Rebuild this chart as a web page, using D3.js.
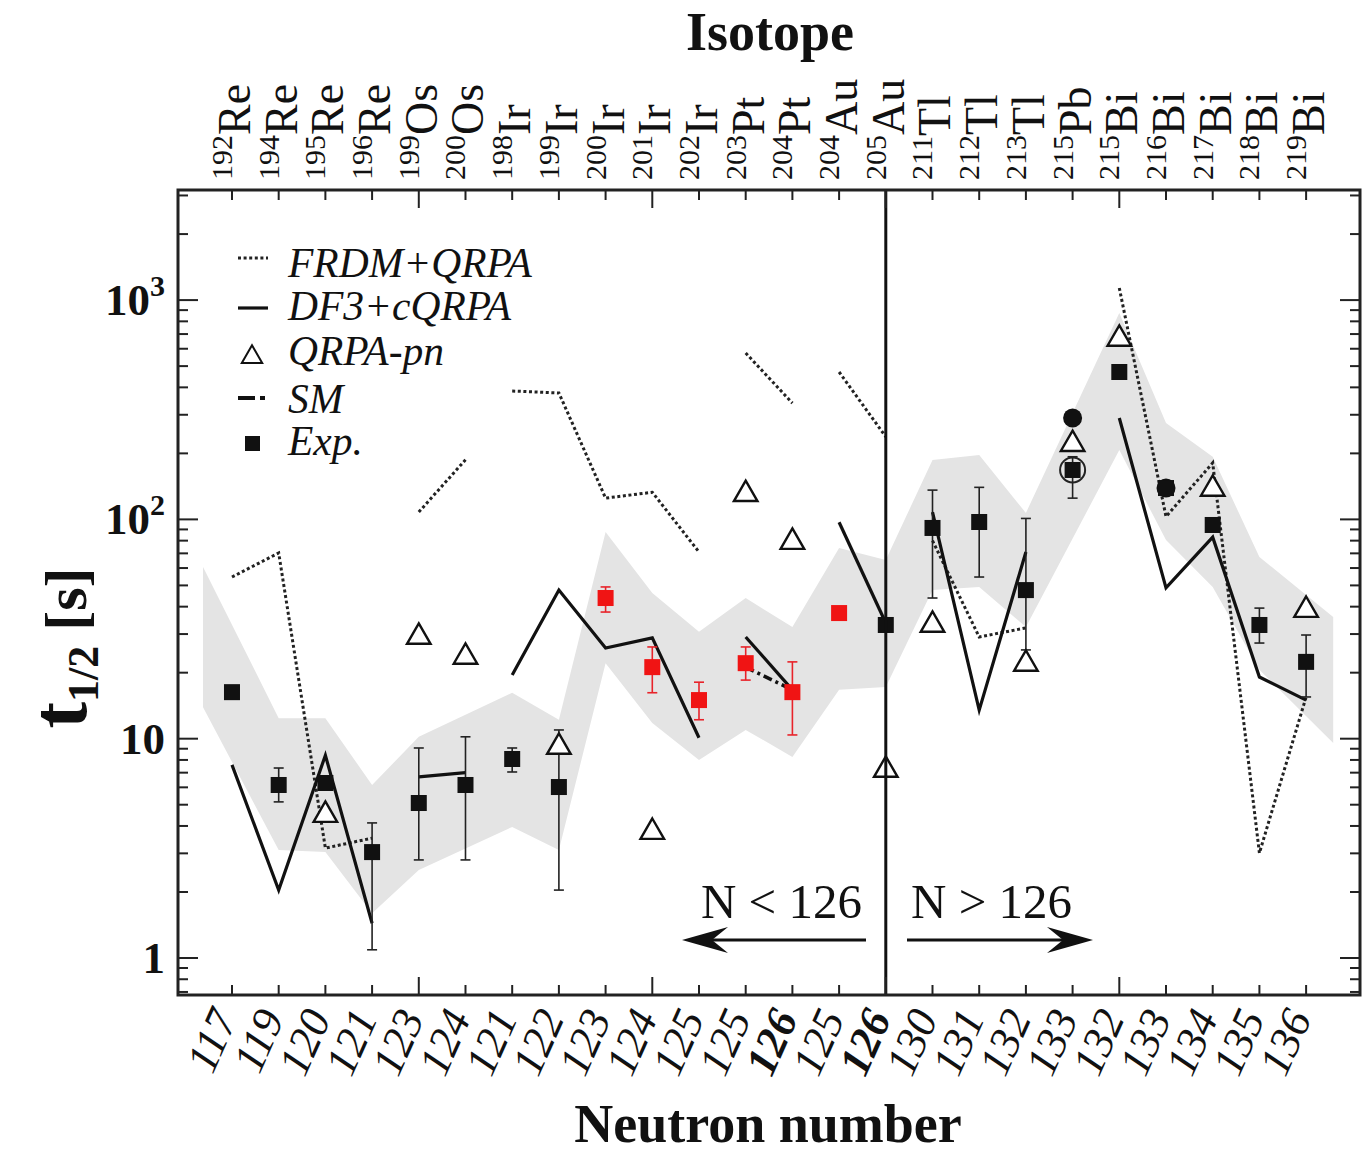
<!DOCTYPE html>
<html><head><meta charset="utf-8">
<script src="https://cdn.jsdelivr.net/npm/d3@7"></script>
<style>body{margin:0;background:#fff}</style>
</head><body>
<svg id="c" width="1367" height="1158"></svg>
<script>
// ---------- data ----------
const massNumbers = [192,194,195,196,199,200,198,199,200,201,202,203,204,204,205,211,212,213,215,215,216,217,218,219];
const elements = ["Re","Re","Re","Re","Os","Os","Ir","Ir","Ir","Ir","Ir","Pt","Pt","Au","Au","Tl","Tl","Tl","Pb","Bi","Bi","Bi","Bi","Bi"];
const neutronNumbers = [117,119,120,121,123,124,121,122,123,124,125,125,126,125,126,130,131,132,133,132,133,134,135,136];
const boldNeutron = [12,14];

const frdm = [54.6,70.3,3.17,3.52,108,187,385,377,125,133,71,574,339,470,238,80,29.1,32,null,1136,103,181,3.01,15.5];
const df3 = [7.6,2.04,8.4,1.44,6.7,7.0,19.5,47.6,25.9,28.8,10.1,29.1,16.7,97,33.7,108,13.5,71,null,290,48.7,83,19.1,15];
const smCalc = [null,null,null,null,null,null,null,null,null,null,null,21.2,16.7,null,null,null,null,null,null,null,null,null,null,null];
const qrpaPn = [null,null,4.58,null,29.7,24.1,null,9.36,null,3.83,null,133,80.5,null,7.35,33.7,null,22.4,225,679,null,140.6,null,39.4];

const expValue = [16.3,6.15,6.28,3.04,5.09,6.15,8.08,6.02,43.8,21.2,15.0,22.1,16.3,37.4,33.0,91.4,97.3,47.6,168,470,139,94.3,33.0,22.4];
const expHigh  = [null,7.35,null,4.13,9.07,10.2,9.07,10.96,49.2,26.2,18.1,26.2,22.4,null,null,136,140,101,193,null,null,null,39.4,29.7];
const expLow   = [null,5.15,null,1.09,2.8,2.8,7.05,2.04,37.8,16.2,12.2,18.5,10.4,null,null,43.8,54.6,25.4,125,null,null,null,27.3,15.5];
const expRedIdx = [8,9,10,11,12,13];
const extraFilledCircle = [{i:18, v:290},{i:20, v:139}];
const openCircleIdx = [18];

const bandPos  = [-0.62,1,2,3,4,6,7,8,9,10,11,12,13,14,15,16,17,19,20,21,22,23.58];
const bandHigh = [60.7,12.4,12.4,6.15,10.2,16.2,12.2,87.6,46.2,30.7,43.8,32.3,74.1,65.3,186.6,196.7,107,873,275,193,67.4,35.9];
const bandLow  = [13.9,3.11,3.04,1.60,2.52,3.96,3.11,22.1,11.8,8.0,10.96,8.26,16.7,17.2,47.6,49.2,32.3,207,80.5,49.2,20.6,9.56];

const yTickValues = [1,10,100,1000];
const yTickBase = ["1","10","10","10"];
const yTickExp = ["","","2","3"];
const xMajorTicks = [4,9,14,19];

const legendLabels = ["FRDM+QRPA","DF3+cQRPA","QRPA-pn","SM","Exp."];

// ---------- layout ----------
const L=178, R=1360, T=190, B=995;
const svg = d3.select("#c");
const serif = "'Liberation Serif','Times New Roman',serif";
const x = d3.scaleLinear().domain([-1.156, 24.154]).range([L,R]);
const y = d3.scaleLog().domain([0.678, 3177]).range([B,T]);

const plot = svg.append("g");
plot.append("clipPath").attr("id","clip").append("rect").attr("x",L).attr("y",T).attr("width",R-L).attr("height",B-T);
const g = plot.append("g").attr("clip-path","url(#clip)");

// band
const bandData = bandPos.map((p,k)=>({p, hi:bandHigh[k], lo:bandLow[k]}));
g.append("path").datum(bandData)
  .attr("d", d3.area().x(d=>x(d.p)).y0(d=>y(d.lo)).y1(d=>y(d.hi)))
  .attr("fill","#e4e4e4");

function segments(vals){
  const segs=[]; let cur=[];
  vals.forEach((v,i)=>{
    if(v==null){ if(cur.length>1) segs.push(cur); cur=[]; return; }
    if(cur.length && elements[cur[cur.length-1].i]!==elements[i]){ if(cur.length>1) segs.push(cur); cur=[]; }
    cur.push({i,v});
  });
  if(cur.length>1) segs.push(cur);
  return segs;
}
const line = d3.line().x(d=>x(d.i)).y(d=>y(d.v));

// FRDM dotted
g.selectAll("path.frdm").data(segments(frdm)).enter().append("path")
  .attr("d",line).attr("fill","none").attr("stroke","#222").attr("stroke-width",3)
  .attr("stroke-dasharray","3,2.6");
// DF3 solid
g.selectAll("path.df3").data(segments(df3)).enter().append("path")
  .attr("d",line).attr("fill","none").attr("stroke","#111").attr("stroke-width",3.2).attr("stroke-linejoin","miter");
// SM dash-dot
g.selectAll("path.sm").data(segments(smCalc)).enter().append("path")
  .attr("d",line).attr("fill","none").attr("stroke","#111").attr("stroke-width",3.5)
  .attr("stroke-dasharray","9,4,3,4");

// vertical separator at N=126
svg.append("line").attr("x1",x(14)).attr("x2",x(14)).attr("y1",T).attr("y2",B)
  .attr("stroke","#111").attr("stroke-width",3);

// error bars
const expData = expValue.map((v,i)=>({i,v,hi:expHigh[i],lo:expLow[i],red:expRedIdx.includes(i)}));
const eb = g.append("g");
expData.filter(d=>d.hi!=null).forEach(d=>{
  const col = d.red ? "#e8232a" : "#222";
  eb.append("line").attr("x1",x(d.i)).attr("x2",x(d.i)).attr("y1",y(d.lo)).attr("y2",y(d.hi)).attr("stroke",col).attr("stroke-width",1.6);
  [d.lo,d.hi].forEach(val=>eb.append("line").attr("x1",x(d.i)-5).attr("x2",x(d.i)+5).attr("y1",y(val)).attr("y2",y(val)).attr("stroke",col).attr("stroke-width",1.6));
});

// extra filled circles
g.selectAll("circle.fc").data(extraFilledCircle).enter().append("circle")
  .attr("cx",d=>x(d.i)).attr("cy",d=>y(d.v)).attr("r",9.5).attr("fill","#111");

// triangles
const tri = d3.symbol().type(d3.symbolTriangle).size(240);
g.selectAll("path.tri").data(qrpaPn.map((v,i)=>({i,v})).filter(d=>d.v!=null)).enter().append("path")
  .attr("d",tri).attr("transform",d=>`translate(${x(d.i)},${y(d.v)+2})`)
  .attr("fill","#fff").attr("stroke","#111").attr("stroke-width",2.4);

// squares
g.selectAll("rect.exp").data(expData).enter().append("rect")
  .attr("x",d=>x(d.i)-8).attr("y",d=>y(d.v)-8).attr("width",16).attr("height",16)
  .attr("fill",d=>d.red?"#f01414":"#111");
// open circle
g.selectAll("circle.oc").data(openCircleIdx).enter().append("circle")
  .attr("cx",i=>x(i)).attr("cy",i=>y(expValue[i])).attr("r",12.5).attr("fill","none").attr("stroke","#222").attr("stroke-width",2);

// ---------- ticks ----------
const ax = svg.append("g").attr("stroke","#222").attr("stroke-width",2);
d3.range(24).forEach(i=>{
  const len = xMajorTicks.includes(i)?18:10;
  ax.append("line").attr("x1",x(i)).attr("x2",x(i)).attr("y1",B).attr("y2",B-len);
  ax.append("line").attr("x1",x(i)).attr("x2",x(i)).attr("y1",T).attr("y2",T+len);
});
const minor=[];
[-1,0,1,2,3].forEach(e=>{ for(let k=1;k<=9;k++){ const v=k*Math.pow(10,e); if(v>=0.68 && v<=3170) minor.push(v);} });
minor.forEach(v=>{
  const len = yTickValues.includes(v)?20:10;
  ax.append("line").attr("x1",L).attr("x2",L+len).attr("y1",y(v)).attr("y2",y(v));
  ax.append("line").attr("x1",R).attr("x2",R-len).attr("y1",y(v)).attr("y2",y(v));
});
// frame
svg.append("rect").attr("x",L).attr("y",T).attr("width",R-L).attr("height",B-T)
  .attr("fill","none").attr("stroke","#222").attr("stroke-width",3);

// y tick labels
yTickValues.forEach((v,k)=>{
  const t = svg.append("text").attr("x",165).attr("y",y(v)+15).attr("text-anchor","end")
    .attr("font-family",serif).attr("font-weight","bold").attr("font-size",45).attr("fill","#111");
  t.append("tspan").text(yTickBase[k]);
  if(yTickExp[k]) t.append("tspan").attr("dy",-19).attr("font-size",30).text(yTickExp[k]);
});

// y axis title
const yt = svg.append("text").attr("transform","translate(86,648) rotate(-90)").attr("text-anchor","middle")
  .attr("font-family",serif).attr("font-weight","bold").attr("fill","#111");
yt.append("tspan").attr("font-size",80).text("t");
yt.append("tspan").attr("font-size",44).attr("dy",12).text("1/2");
yt.append("tspan").attr("font-size",60).attr("dy",-12).text(" [s]");

// top isotope labels
massNumbers.forEach((m,i)=>{
  const t = svg.append("text").attr("transform",`translate(${x(i)+18},180) rotate(-90)`)
    .attr("font-family",serif).attr("fill","#111");
  t.append("tspan").attr("font-size",30).attr("dy",-18).text(m);
  t.append("tspan").attr("font-size",46).attr("dy",18).text(elements[i]);
});
svg.append("text").attr("x",770).attr("y",50).attr("text-anchor","middle")
  .attr("font-family",serif).attr("font-weight","bold").attr("font-size",54).attr("fill","#111").text("Isotope");

// bottom neutron labels
neutronNumbers.forEach((n,i)=>{
  svg.append("text").attr("transform",`translate(${x(i)+6},1018) rotate(-66)`)
    .attr("text-anchor","end").attr("font-family",serif).attr("font-style","italic")
    .attr("font-weight",boldNeutron.includes(i)?"bold":"normal")
    .attr("font-size",44).attr("fill","#111").text(n);
});
svg.append("text").attr("x",768).attr("y",1142).attr("text-anchor","middle")
  .attr("font-family",serif).attr("font-weight","bold").attr("font-size",54).attr("fill","#111").text("Neutron number");

// ---------- legend ----------
const lg = svg.append("g");
const lgBase = [277,320,365,413,455];
legendLabels.forEach((lab,k)=>{
  lg.append("text").attr("x",288).attr("y",lgBase[k]).attr("font-family",serif).attr("font-style","italic")
    .attr("font-size",41.5).attr("fill","#111").text(lab);
});
lg.append("line").attr("x1",238).attr("x2",268).attr("y1",258).attr("y2",258).attr("stroke","#222").attr("stroke-width",3).attr("stroke-dasharray","3,2.6");
lg.append("line").attr("x1",238).attr("x2",268).attr("y1",308).attr("y2",308).attr("stroke","#111").attr("stroke-width",3.2);
lg.append("path").attr("d",d3.symbol().type(d3.symbolTriangle).size(180)).attr("transform","translate(252,357)").attr("fill","#fff").attr("stroke","#111").attr("stroke-width",2);
lg.append("line").attr("x1",238).attr("x2",255).attr("y1",398).attr("y2",398).attr("stroke","#111").attr("stroke-width",4);
lg.append("line").attr("x1",260).attr("x2",265).attr("y1",398).attr("y2",398).attr("stroke","#111").attr("stroke-width",4);
lg.append("rect").attr("x",245).attr("y",436).attr("width",15).attr("height",15).attr("fill","#111");

// ---------- annotations ----------
svg.append("text").attr("x",862).attr("y",918).attr("text-anchor","end").attr("font-family",serif)
  .attr("font-size",49).attr("fill","#111").text("N < 126");
svg.append("text").attr("x",911).attr("y",918).attr("text-anchor","start").attr("font-family",serif)
  .attr("font-size",49).attr("fill","#111").text("N > 126");
function arrow(x0,x1,yy){
  const dir = Math.sign(x1-x0);
  svg.append("line").attr("x1",x0).attr("x2",x1-dir*30).attr("y1",yy).attr("y2",yy).attr("stroke","#111").attr("stroke-width",3);
  const p = d3.path();
  p.moveTo(x1,yy); p.lineTo(x1-dir*46,yy-13); p.lineTo(x1-dir*30,yy); p.lineTo(x1-dir*46,yy+13); p.closePath();
  svg.append("path").attr("d",p.toString()).attr("fill","#111");
}
arrow(866,682,940);
arrow(907,1093,940);
</script>
</body></html>
